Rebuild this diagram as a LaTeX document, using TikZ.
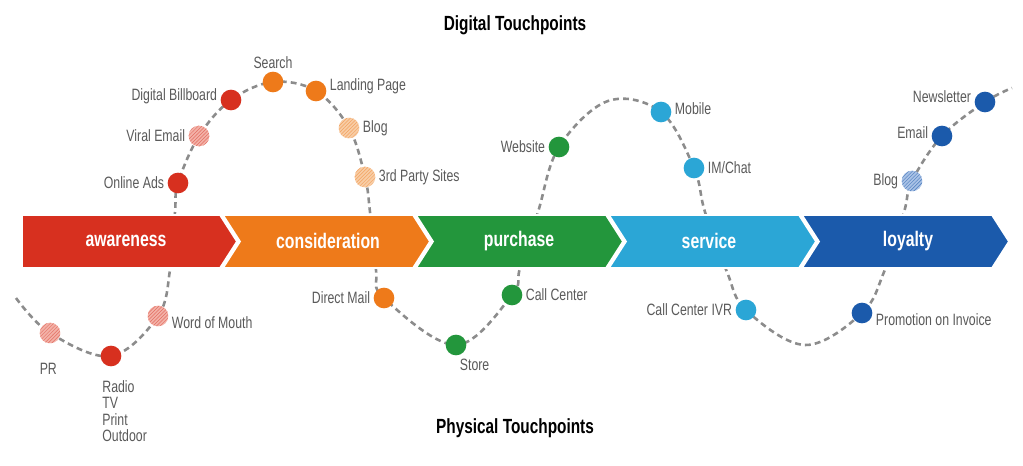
\documentclass[tikz,border=0pt]{standalone}
\usepackage{fontspec}
\setmainfont{Liberation Sans}[FakeStretch=0.75]
\usepackage{tikz}
\usetikzlibrary{positioning,patterns}

\definecolor{awarecol}{HTML}{D7301F}
\definecolor{considcol}{HTML}{EE7A1A}
\definecolor{purchcol}{HTML}{23963C}
\definecolor{servcol}{HTML}{2BA6D6}
\definecolor{loyalcol}{HTML}{1B5AAB}
\definecolor{lightred}{HTML}{F3B2A8}
\definecolor{lightorange}{HTML}{F8CDA6}
\definecolor{lightblue}{HTML}{A9C2E6}
\definecolor{txtgray}{HTML}{5A5A5A}
\definecolor{trailgray}{HTML}{8C8C8C}

\begin{document}
\begin{tikzpicture}[x=0.03cm,y=-0.03cm,node distance=0.6mm]
  \tikzstyle{dot}=[circle,inner sep=0pt,minimum size=0.62cm]
  \tikzstyle{hatched}=[dot,postaction={pattern=north east lines,pattern color=#1}]
  \tikzstyle{lbl}=[text=txtgray,inner sep=1pt,font=\fontsize{14}{14}\selectfont]
  \tikzstyle{stage}=[text=white,font=\bfseries\fontsize{18}{18}\selectfont]
  \tikzstyle{title}=[font=\bfseries\fontsize{17.5}{17.5}\selectfont]
  \tikzstyle{trail}=[draw=trailgray,line width=2.2pt,dash pattern=on 5pt off 3.5pt]
  \tikzstyle{gap}=[draw=white,line width=1.5pt]

  \useasboundingbox[fill=white] (0,0) rectangle (1023,465);

  % Titles
  \node[title] (digital) at (515,25) {Digital Touchpoints};
  \node[title] (physical) at (515,428) {Physical Touchpoints};

  % Touchpoints (placed first, the stages cover the trail)
  \coordinate (t0) at (16,298);
  \coordinate (t1) at (170,270);
  \coordinate (t2) at (175,212);
  \coordinate (t3) at (370,212);
  \coordinate (t4) at (376,270);
  \coordinate (t5) at (520,268);
  \coordinate (t6) at (538,212);
  \coordinate (t7) at (608,101);
  \coordinate (t8) at (705,212);
  \coordinate (t9) at (727,272);
  \coordinate (t10) at (805,345);
  \coordinate (t11) at (884,272);
  \coordinate (t12) at (904,212);
  \coordinate (t13) at (1012,88);

  \coordinate (pr) at (50,333);
  \coordinate (radio) at (111,356);
  \coordinate (mouth) at (158,316);
  \coordinate (ads) at (178,183);
  \coordinate (viral) at (199,136);
  \coordinate (billboard) at (231,100);
  \coordinate (search) at (273,82);
  \coordinate (landing) at (316,91);
  \coordinate (blogA) at (349,128);
  \coordinate (party) at (365,177);
  \coordinate (mail) at (384,298);
  \coordinate (store) at (456,345);
  \coordinate (callc) at (512,295);
  \coordinate (website) at (559,147);
  \coordinate (mobile) at (661,112);
  \coordinate (chat) at (694,168);
  \coordinate (ivr) at (746,310);
  \coordinate (promo) at (862,313);
  \coordinate (blogB) at (912,181);
  \coordinate (email) at (942,136);
  \coordinate (news) at (985,102);

  % Trail
  \draw[trail] plot[smooth,tension=0.6] coordinates {(t0) (pr) (radio) (mouth) (t1) (t2) (ads) (viral)
    (billboard) (search) (landing) (blogA) (party) (t3) (t4) (mail) (store) (callc) (t5) (t6)
    (website) (t7) (mobile) (chat) (t8) (t9) (ivr) (t10) (promo) (t11) (t12) (blogB) (email) (news) (t13)};

  % Stages
  \fill[awarecol,gap] (22,215) -- (220,215) -- (237,241.5) -- (220,268) -- (22,268) -- cycle;
  \fill[considcol,gap] (223,215) -- (413,215) -- (430,241.5) -- (413,268) -- (223,268) -- (240,241.5) -- cycle;
  \fill[purchcol,gap] (416,215) -- (606,215) -- (623,241.5) -- (606,268) -- (416,268) -- (433,241.5) -- cycle;
  \fill[servcol,gap] (609,215) -- (799,215) -- (816,241.5) -- (799,268) -- (609,268) -- (626,241.5) -- cycle;
  \fill[loyalcol,gap] (802,215) -- (992,215) -- (1009,241.5) -- (992,268) -- (802,268) -- (819,241.5) -- cycle;
  \node[stage] (awareness) at (126,241) {awareness};
  \node[stage] (consideration) at (328,241) {consideration};
  \node[stage] (purchase) at (519,241) {purchase};
  \node[stage] (service) at (709,241) {service};
  \node[stage] (loyalty) at (908,241) {loyalty};

  % Dots
  \node[hatched=awarecol!70,fill=lightred] (prdot) at (pr) {};
  \node[dot,fill=awarecol] (radiodot) at (radio) {};
  \node[hatched=awarecol!70,fill=lightred] (mouthdot) at (mouth) {};
  \node[dot,fill=awarecol] (adsdot) at (ads) {};
  \node[hatched=awarecol!70,fill=lightred] (viraldot) at (viral) {};
  \node[dot,fill=awarecol] (billboarddot) at (billboard) {};
  \node[dot,fill=considcol] (searchdot) at (search) {};
  \node[dot,fill=considcol] (landingdot) at (landing) {};
  \node[hatched=considcol!70,fill=lightorange] (blogAdot) at (blogA) {};
  \node[hatched=considcol!70,fill=lightorange] (partydot) at (party) {};
  \node[dot,fill=considcol] (maildot) at (mail) {};
  \node[dot,fill=purchcol] (storedot) at (store) {};
  \node[dot,fill=purchcol] (callcdot) at (callc) {};
  \node[dot,fill=purchcol] (websitedot) at (website) {};
  \node[dot,fill=servcol] (mobiledot) at (mobile) {};
  \node[dot,fill=servcol] (chatdot) at (chat) {};
  \node[dot,fill=servcol] (ivrdot) at (ivr) {};
  \node[dot,fill=loyalcol] (promodot) at (promo) {};
  \node[hatched=loyalcol!80,fill=lightblue] (blogBdot) at (blogB) {};
  \node[dot,fill=loyalcol] (emaildot) at (email) {};
  \node[dot,fill=loyalcol] (newsdot) at (news) {};

  % Labels
  \node[lbl,below=5.5mm of prdot,xshift=-0.5mm] {PR};
  \node[lbl,align=left,anchor=north west] at (101,379) {Radio\\TV\\Print\\Outdoor};
  \node[lbl,right=of mouthdot,yshift=-2mm] {Word of Mouth};
  \node[lbl,left=of adsdot] {Online Ads};
  \node[lbl,left=of viraldot] {Viral Email};
  \node[lbl,left=of billboarddot,yshift=1mm] {Digital Billboard};
  \node[lbl,above=0.5mm of searchdot] {Search};
  \node[lbl,right=of landingdot,yshift=1.5mm] {Landing Page};
  \node[lbl,right=of blogAdot] {Blog};
  \node[lbl,right=of partydot] {3rd Party Sites};
  \node[lbl,left=of maildot] {Direct Mail};
  \node[lbl,below right=1.5mm and -1.5mm of storedot] {Store};
  \node[lbl,right=of callcdot] {Call Center};
  \node[lbl,left=of websitedot] {Website};
  \node[lbl,right=of mobiledot,yshift=1mm] {Mobile};
  \node[lbl,right=of chatdot] {IM/Chat};
  \node[lbl,left=of ivrdot] {Call Center IVR};
  \node[lbl,right=of promodot,yshift=-2mm] {Promotion on Invoice};
  \node[lbl,left=of blogBdot] {Blog};
  \node[lbl,left=of emaildot,yshift=1mm] {Email};
  \node[lbl,left=of newsdot,yshift=1.5mm] {Newsletter};
\end{tikzpicture}
\end{document}
